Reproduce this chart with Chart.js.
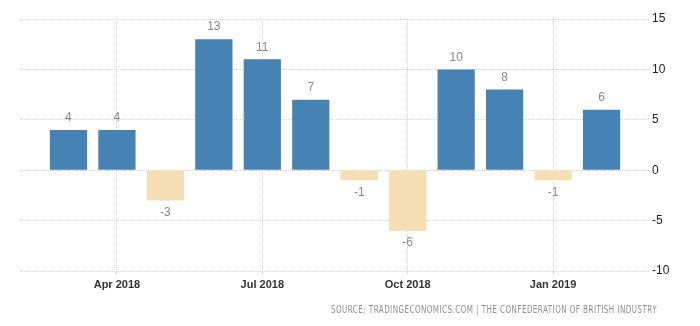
<!DOCTYPE html>
<html lang="en">
<head>
    <meta charset="UTF-8">
    <title>CBI Industrial Trends</title>
    <script src="https://cdn.jsdelivr.net/npm/chart.js"></script>
    <style>
        body { margin: 0; background: #fff; }
        #wrap { width: 700px; height: 326px; }
    </style>
</head>
<body>
    <div id="wrap"><canvas id="cbiChart" width="700" height="326"></canvas></div>

    <script>
        const months = ['Mar 2018', 'Apr 2018', 'May 2018', 'Jun 2018', 'Jul 2018', 'Aug 2018',
                        'Sep 2018', 'Oct 2018', 'Nov 2018', 'Dec 2018', 'Jan 2019', 'Feb 2019'];
        const values = [4, 4, -3, 13, 11, 7, -1, -6, 10, 8, -1, 6];
        const shownMonths = [1, 4, 7, 10];   // Apr, Jul, Oct, Jan
        const yTicks = [-10, -5, 0, 5, 10, 15];
        const source = 'SOURCE: TRADINGECONOMICS.COM | THE CONFEDERATION OF BRITISH INDUSTRY';

        const blue = '#4682b4';
        const sand = '#f5deb3';

        // value printed above/below each bar
        const valueLabels = {
            id: 'valueLabels',
            afterDatasetsDraw(chart) {
                const ctx = chart.ctx;
                const meta = chart.getDatasetMeta(0);
                ctx.save();
                ctx.font = '12px "Liberation Sans", Arial';
                ctx.fillStyle = '#8a8a8a';
                ctx.textAlign = 'center';
                ctx.textBaseline = 'middle';
                meta.data.forEach((bar, i) => {
                    const v = values[i];
                    const y = v >= 0 ? bar.y - 12 : bar.y + 12;
                    ctx.fillText(String(v), bar.x, y);
                });
                ctx.restore();
            }
        };

        const sourceNote = {
            id: 'sourceNote',
            afterDraw(chart) {
                const ctx = chart.ctx;
                ctx.save();
                ctx.font = '10px "DejaVu Sans"';
                ctx.letterSpacing = '0.6px';
                ctx.fillStyle = '#909090';
                ctx.textAlign = 'right';
                ctx.textBaseline = 'middle';
                ctx.fillText(source, 657, 310, 326);
                ctx.restore();
            }
        };

        new Chart(document.getElementById('cbiChart'), {
            type: 'bar',
            data: {
                datasets: [{
                    data: values.map((v, i) => ({ x: i, y: v })),
                    backgroundColor: values.map(v => v >= 0 ? blue : sand),
                    borderWidth: 0,
                    categoryPercentage: 0.8,
                    barPercentage: 0.96
                }]
            },
            plugins: [valueLabels, sourceNote],
            options: {
                responsive: false,
                animation: false,
                layout: { padding: { left: 20, top: 19, right: 0, bottom: 0 } },
                plugins: { legend: { display: false }, tooltip: { enabled: false } },
                scales: {
                    x: {
                        type: 'linear',
                        min: -1,
                        max: 12,
                        offset: false,
                        afterBuildTicks: scale => { scale.ticks = shownMonths.map(v => ({ value: v })); },
                        afterFit: scale => { scale.height = 55; },
                        ticks: {
                            callback: v => months[v],
                            color: '#333',
                            font: { family: '"Liberation Sans", Arial', size: 11, weight: 'bold' },
                            padding: 4,
                            maxRotation: 0
                        },
                        grid: { offset: false, color: '#d6d6d6', tickColor: '#d6d6d6', tickLength: 3 },
                        border: { display: false, dash: [1, 1] }
                    },
                    y: {
                        position: 'right',
                        min: -10,
                        max: 15,
                        afterBuildTicks: scale => { scale.ticks = yTicks.map(v => ({ value: v })); },
                        afterFit: scale => { scale.width = 50; },
                        ticks: {
                            color: '#222',
                            font: { family: '"Liberation Sans", Arial', size: 12 },
                            padding: 2
                        },
                        grid: { color: '#d6d6d6', drawTicks: false },
                        border: { display: false, dash: [1, 1] }
                    }
                }
            }
        });
    </script>
</body>
</html>
